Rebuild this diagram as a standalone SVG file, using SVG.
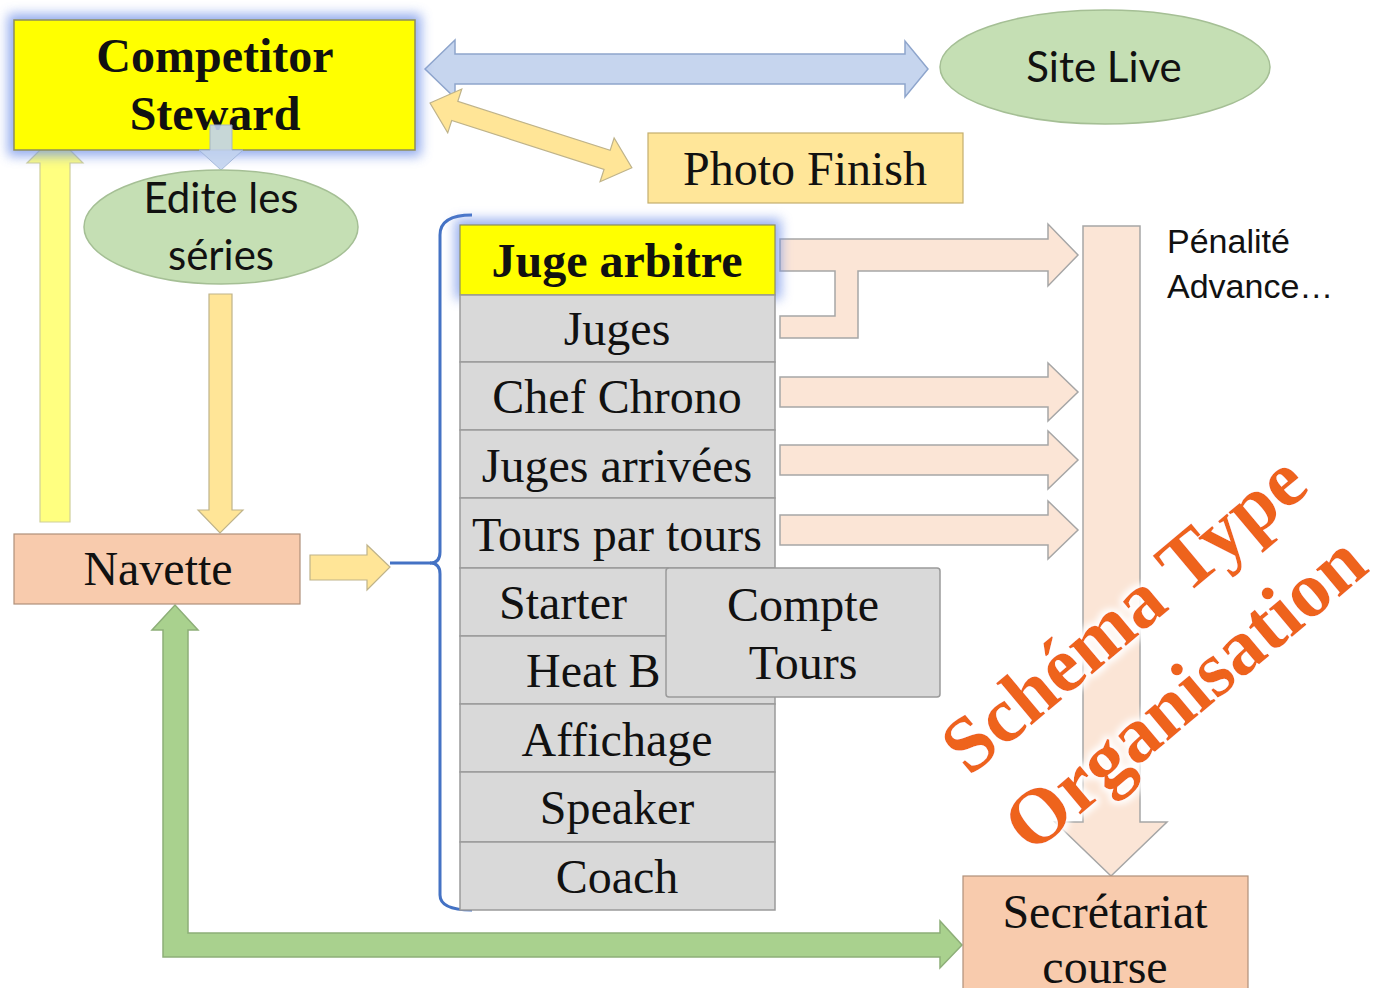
<svg xmlns="http://www.w3.org/2000/svg" width="1386" height="988" viewBox="0 0 1386 988">
<defs>
<filter id="glow" x="-20%" y="-40%" width="140%" height="180%"><feGaussianBlur stdDeviation="6"/></filter>
<filter id="halo" x="-10%" y="-30%" width="120%" height="160%"><feMorphology operator="dilate" radius="3" in="SourceAlpha" result="d"/><feGaussianBlur in="d" stdDeviation="3" result="b"/><feFlood flood-color="#ffffff"/><feComposite in2="b" operator="in" result="w"/><feMerge><feMergeNode in="w"/><feMergeNode in="SourceGraphic"/></feMerge></filter>
</defs>
<style>
.serif{font-family:"Liberation Serif","Times New Roman",serif;fill:#111;text-anchor:middle;font-size:48px}
.sans{font-family:Lato,"Liberation Sans",sans-serif;fill:#111;text-anchor:middle}
.row{fill:#D9D9D9;stroke:#9a9a9a;stroke-width:1.5}
.peach{fill:#FBE5D6;stroke:#A6A6A6;stroke-width:1.5}
.gold{fill:#FFE597;stroke:#BFB38A;stroke-width:1.2}
.blue{fill:#C6D5EE;stroke:#8EA5CC;stroke-width:1.5}
.green{fill:#A9D18E;stroke:#8DAE78;stroke-width:1.5}
.ell{fill:#C5DFB4;stroke:#A5BF95;stroke-width:1.5}
.salmon{fill:#F8CBAD;stroke:#B0907A;stroke-width:1.2}
</style>
<rect width="1386" height="988" fill="#fff"/>

<g id="connectors">
<polygon class="blue" points="425,69 455,40 455,54 905,54 905,41 928,69 905,97 905,84 455,84 455,98"/>
<polygon class="gold" transform="translate(430,103) rotate(17.8)" points="0,0 26,-23 26,-10 186,-10 186,-23 212,0 186,23 186,10 26,10 26,23"/>
<polygon fill="#FFFF80" stroke="#CFCF9A" stroke-width="1.2" points="55,135 83,163 70,163 70,522 40,522 40,163 27,163"/>
<polygon class="gold" points="209,294 232,294 232,510 243,510 220,533 198,510 209,510"/>
<polygon class="gold" points="310,555 367,555 367,545 390,567 367,590 367,580 310,580"/>
<path d="M390,563 L431,563" stroke="#4472C4" stroke-width="3" fill="none"/>
<path d="M472,215 Q440,215 440,235 L440,552 Q440,563 430,563 Q440,563 440,574 L440,895 Q440,910 472,910" stroke="#4472C4" stroke-width="3" fill="none"/>
<path class="peach" d="M780,239 L1048,239 L1048,224 L1078,255 L1048,286 L1048,271 L858,271 L858,338 L780,338 L780,316 L835,316 L835,271 L780,271 Z"/>
<polygon class="peach" points="780,377 1048,377 1048,363 1078,392 1048,421 1048,407 780,407"/>
<polygon class="peach" points="780,445 1048,445 1048,431 1078,460 1048,489 1048,475 780,475"/>
<polygon class="peach" points="780,515 1048,515 1048,501 1078,530 1048,559 1048,545 780,545"/>
<polygon class="peach" points="1083,226 1140,226 1140,822 1167,822 1111,876 1055,822 1083,822"/>
<path class="green" d="M163,957 L163,630 L152,630 L175,605 L198,630 L188,630 L188,933 L940,933 L940,921 L962,945 L940,968 L940,957 Z"/>
</g>

<g id="competitor-steward">
<rect x="8" y="14" width="413" height="142" fill="#6E8FE8" opacity="0.75" filter="url(#glow)"/>
<rect x="14" y="20" width="401" height="130" fill="#FFFF00" stroke="#8E8E5A" stroke-width="1.5"/>
<text class="serif" x="215" y="72" font-weight="bold">Competitor</text>
<text class="serif" x="215" y="130" font-weight="bold">Steward</text>
</g>
<polygon fill="#C2D3EF" opacity="0.9" stroke="#9DB2D6" stroke-width="1" points="210,125 232,125 232,150 243,150 221,170 199,150 210,150"/>

<g id="edite-series">
<ellipse class="ell" cx="221" cy="227" rx="137" ry="57"/>
<text class="sans" x="221" y="213" font-size="42">Edite les</text>
<text class="sans" x="221" y="270" font-size="42">séries</text>
</g>

<g id="site-live">
<ellipse class="ell" cx="1105" cy="67" rx="165" ry="57"/>
<text class="sans" x="1104" y="82" font-size="42">Site Live</text>
</g>

<g id="photo-finish">
<rect x="648" y="133" width="315" height="70" fill="#FFE699" stroke="#C4AE6E" stroke-width="1.2"/>
<text class="serif" x="805" y="185">Photo Finish</text>
</g>

<g id="navette">
<rect class="salmon" x="14" y="534" width="286" height="70"/>
<text class="serif" x="158" y="585">Navette</text>
</g>

<g id="juge-arbitre">
<rect x="455" y="219" width="326" height="80" fill="#6E8FE8" opacity="0.7" filter="url(#glow)"/>
<rect x="460" y="225" width="315" height="70" fill="#FFFF00" stroke="#8E8E5A" stroke-width="1.2"/>
<text class="serif" x="617" y="277" font-weight="bold">Juge arbitre</text>
</g>
<g id="juges"><rect class="row" x="460" y="295" width="315" height="67"/><text class="serif" x="617" y="345">Juges</text></g>
<g id="chef-chrono"><rect class="row" x="460" y="362" width="315" height="68"/><text class="serif" x="617" y="413">Chef Chrono</text></g>
<g id="juges-arrivees"><rect class="row" x="460" y="430" width="315" height="68"/><text class="serif" x="617" y="482">Juges arrivées</text></g>
<g id="tours-par-tours"><rect class="row" x="460" y="498" width="315" height="70"/><text class="serif" x="617" y="551">Tours par tours</text></g>
<g id="starter"><rect class="row" x="460" y="568" width="208" height="68"/><text class="serif" x="563" y="619">Starter</text></g>
<g id="heat-board"><rect class="row" x="460" y="636" width="315" height="68"/><text class="serif" x="526" y="687" style="text-anchor:start">Heat B</text></g>
<g id="affichage"><rect class="row" x="460" y="704" width="315" height="68"/><text class="serif" x="617" y="756">Affichage</text></g>
<g id="speaker"><rect class="row" x="460" y="772" width="315" height="70"/><text class="serif" x="617" y="824">Speaker</text></g>
<g id="coach"><rect class="row" x="460" y="842" width="315" height="68"/><text class="serif" x="617" y="893">Coach</text></g>
<g id="compte-tours">
<rect class="row" x="666" y="568" width="274" height="129" rx="3"/>
<text class="serif" x="803" y="621">Compte</text>
<text class="serif" x="803" y="679">Tours</text>
</g>

<g id="penalite">
<text x="1167" y="253" font-family="Liberation Sans, Arial, sans-serif" font-size="34" fill="#111">Pénalité</text>
<text x="1167" y="298" font-family="Liberation Sans, Arial, sans-serif" font-size="34" fill="#111">Advance…</text>
</g>

<g id="secretariat">
<rect class="salmon" x="963" y="876" width="285" height="130"/>
<text class="serif" x="1105" y="928">Secrétariat</text>
<text class="serif" x="1105" y="983">course</text>
</g>

<g id="watermark" filter="url(#halo)" font-family="Liberation Serif, Times New Roman, serif" font-weight="bold" font-size="79" fill="#EE641F" text-anchor="middle">
<text transform="translate(1123,613) rotate(-40)" x="0" y="27">Schéma Type</text>
<text transform="translate(1184,692) rotate(-40)" x="0" y="27">Organisation</text>
</g>
</svg>
